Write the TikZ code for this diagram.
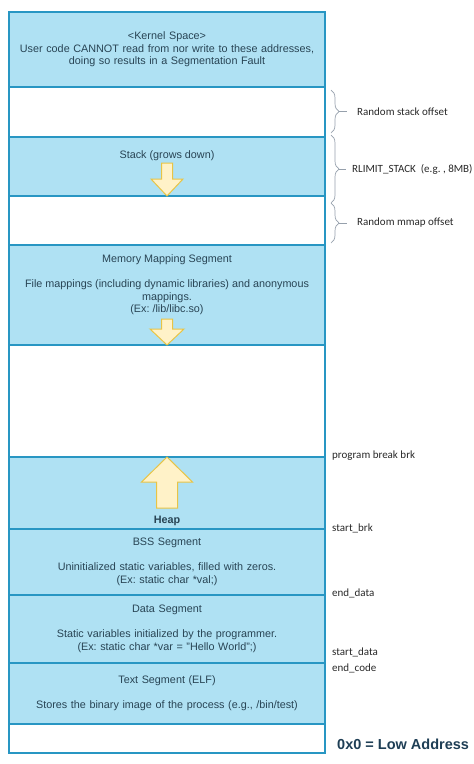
\documentclass[tikz,border=0pt]{standalone}
\usepackage{fontspec}
\setmainfont{Liberation Sans}
\newfontfamily\calib{Carlito}
\usetikzlibrary{positioning,decorations.pathreplacing}
\definecolor{segfill}{RGB}{175,225,243}
\definecolor{segline}{RGB}{40,150,195}
\definecolor{segtext}{RGB}{40,68,84}
\definecolor{growfill}{RGB}{255,242,200}
\definecolor{growline}{RGB}{232,196,70}
\definecolor{bracegray}{RGB}{150,160,172}
\definecolor{addrtext}{RGB}{40,40,40}
\definecolor{lowaddr}{RGB}{30,62,85}
\frenchspacing

\begin{document}
\begin{tikzpicture}[x=1pt,y=1pt,
  seg/.style={draw=segline, line width=1.4pt, fill=segfill, minimum width=316pt,
    inner sep=0pt, outer sep=0pt, text width=310pt, align=center, text=segtext,
    font=\fontsize{10.8}{12.5}\selectfont},
  gapseg/.style={seg, fill=white},
  lbl/.style={inner sep=0pt, align=center, text=segtext, font=\fontsize{10.8}{12.5}\selectfont},
  growarrow/.style={draw=growline, line width=1pt, fill=growfill, line join=miter},
  addr/.style={anchor=west, inner sep=0pt, text=addrtext, font=\calib\fontsize{11}{13}\selectfont},
  bracespan/.style={draw=bracegray, line width=0.7pt, decorate, decoration={brace, amplitude=8pt}},
  bracetick/.style={draw=bracegray, line width=0.7pt}]
\useasboundingbox (0,0) rectangle (474,-764);
% the address space, top to bottom
\node[seg, minimum height=75pt, anchor=north west] (kernel) at (9,-12)
  {<Kernel Space>\\User code CANNOT read from nor write to these addresses,\\doing so results in a Segmentation Fault};
\node[gapseg, minimum height=50pt, below=0pt of kernel] (stackoff) {};
\node[seg, minimum height=59pt, below=0pt of stackoff] (stack) {};
\node[gapseg, minimum height=49pt, below=0pt of stack] (mmapoff) {};
\node[seg, minimum height=100pt, below=0pt of mmapoff] (mmap) {};
\node[gapseg, minimum height=112pt, below=0pt of mmap] (unmapped) {};
\node[seg, minimum height=72pt, below=0pt of unmapped] (heap) {};
\node[seg, minimum height=66pt, below=0pt of heap] (bss)
  {BSS Segment\\[12.5pt]Uninitialized static variables, filled with zeros.\\(Ex: static char *val;)};
\node[seg, minimum height=68pt, below=0pt of bss] (data)
  {Data Segment\\[12.5pt]Static variables initialized by the programmer.\\(Ex: static char *var = "Hello World";)};
\node[seg, minimum height=61pt, below=0pt of data] (textseg)
  {Text Segment (ELF)\\[12.5pt]Stores the binary image of the process (e.g., /bin/test)};
\node[gapseg, minimum height=29pt, below=0pt of textseg] (bottom) {};
% texts at the top or bottom of a segment
\node[lbl, anchor=base] (stacklbl) at ([yshift=-21pt]stack.north) {Stack (grows down)};
\node[lbl, anchor=north] (mmaplbl) at ([yshift=-9.5pt]mmap.north)
  {Memory Mapping Segment\\[12.5pt]File mappings (including dynamic libraries) and anonymous\\mappings.\\(Ex: /lib/libc.so)};
\node[lbl, anchor=base, font=\bfseries\fontsize{10.8}{12.5}\selectfont] (heaplbl) at ([yshift=6pt]heap.south) {Heap};
% growth arrows
\begin{scope}[shift={(stack.south)}]
\draw[growarrow] (-5.5,33) -- (5.5,33) -- (5.5,17) -- (16,17) -- (0,0) -- (-16,17) -- (-5.5,17) -- cycle;
\end{scope}
\begin{scope}[shift={(mmap.south)}]
\draw[growarrow] (-5.5,26) -- (5.5,26) -- (5.5,16) -- (17,16) -- (0,0) -- (-17,16) -- (-5.5,16) -- cycle;
\end{scope}
\begin{scope}[shift={(heap.north)}]
\draw[growarrow] (0,0) -- (25.5,-25) -- (10.5,-25) -- (10.5,-51) -- (-10.5,-51) -- (-10.5,-25) -- (-25.5,-25) -- cycle;
\end{scope}
% braces on the right
\draw[bracespan] ([xshift=6pt,yshift=-3pt]stackoff.north east) -- ([xshift=6pt,yshift=4pt]stackoff.south east)
  coordinate[midway, xshift=8pt] (rsotip);
\draw[bracespan] ([xshift=6pt,yshift=2pt]stack.north east) -- ([xshift=6pt,yshift=-7pt]stack.south east)
  coordinate[midway, xshift=8pt] (rlimtip);
\draw[bracespan] ([xshift=6pt,yshift=-7pt]mmapoff.north east) -- ([xshift=6pt,yshift=2pt]mmapoff.south east)
  coordinate[midway, xshift=8pt] (rmotip);
\node[addr] (rsolbl) at ([xshift=18pt]rsotip) {Random stack offset};
\node[addr] (rlimlbl) at ([xshift=13pt]rlimtip) {RLIMIT\_STACK~ (e.g. , 8MB)};
\node[addr] (rmolbl) at ([xshift=18pt]rmotip) {Random mmap offset};
\draw[bracetick, shorten >=10pt] (rsotip) -- (rsolbl.west);
\draw[bracetick, shorten >=6pt] (rlimtip) -- (rlimlbl.west);
\draw[bracetick, shorten >=10pt] (rmotip) -- (rmolbl.west);
% addresses
\node[addr] (pbrk) at ([xshift=7pt,yshift=1pt]heap.north east) {program break brk};
\node[addr] (sbrk) at ([xshift=7pt,yshift=1pt]heap.south east) {start\_brk};
\node[addr] (edata) at ([xshift=7pt,yshift=2pt]bss.south east) {end\_data};
\node[addr] (sdata) at ([xshift=7pt,yshift=11pt]data.south east) {start\_data};
\node[addr] (ecode) at ([xshift=7pt,yshift=-5pt]textseg.north east) {end\_code};
\node[anchor=west, inner sep=0pt, text=lowaddr, font=\bfseries\fontsize{14.5}{16}\selectfont] (low)
  at ([xshift=12pt,yshift=-5.5pt]bottom.east) {0x0 = Low Address};
\end{tikzpicture}
\end{document}
